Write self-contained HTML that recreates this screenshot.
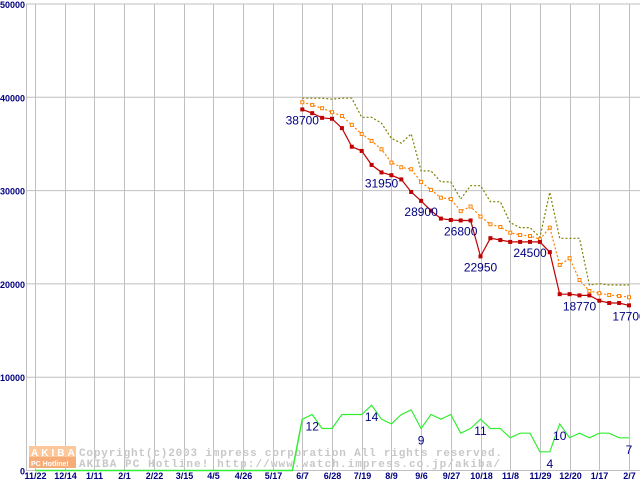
<!DOCTYPE html>
<html><head><meta charset="utf-8"><style>
html,body{margin:0;padding:0;background:#fff;}
svg{display:block;}
</style></head><body>
<svg id="chart" width="640" height="480" xmlns="http://www.w3.org/2000/svg"></svg>
<script>
const xLabels=["11/22","12/14","1/11","2/1","2/22","3/15","4/5","4/26","5/17","6/7","6/28","7/19","8/9","9/6","9/27","10/18","11/8","11/29","12/20","1/17","2/7"];
const yTicks=[0,10000,20000,30000,40000,50000];
const startIndex=27;
const minPrice=[38700,38300,37800,37700,36700,34700,34250,32750,31950,31650,31200,29850,28900,27850,27000,26850,26800,26800,22950,24900,24700,24500,24500,24500,24500,23400,18900,18900,18770,18770,18200,17950,17950,17700];
const avgPrice=[39470,39180,38830,38400,38000,37040,36070,35320,34430,33000,32500,32290,30930,30070,29240,29100,27800,28290,27210,26390,26100,25490,25240,25130,24780,26030,22030,22750,20420,19240,19000,18810,18700,18570];
const maxPrice=[39900,39900,39900,39800,39900,39900,37860,37860,37220,35610,35080,36080,32110,32110,30930,30930,29100,30520,30530,28810,28810,26560,26030,26030,25000,29820,24890,24890,24890,19880,20020,19880,19880,19880];
const shopCount=[11,12,9,9,12,12,12,14,11,10,12,13,9,12,11,12,8,9,11,9,9,7,8,8,4,4,10,7,8,7,8,8,7,7];
const priceLabelIdx=[27,35,39,43,45,50,55,60];
const priceLabelText=["38700","31950","28900","26800","22950","24500","18770","17700"];
const countLabelIdx=[28,34,39,45,52,53,60];
const countLabelText=["12","14","9","11","4","10","7"];

const svg=document.getElementById('chart');
const NS='http://www.w3.org/2000/svg';
function X(i){return 35+i*(629-35)/60;}
function Y(v){return 470.5-v*(466.5/50000);}
function mk(tag,attrs,parent){const e=document.createElementNS(NS,tag);for(const k in attrs)e.setAttribute(k,attrs[k]);(parent||svg).appendChild(e);return e;}

// gridlines
yTicks.forEach(v=>{
  const l=mk('line',{x1:26,x2:640,y1:Y(v),y2:Y(v),stroke:'#c0c0c0','stroke-width':1});
  
  
  const t=mk('text',{x:25,y:Y(v)+4,'text-anchor':'end','font-family':'Liberation Sans, sans-serif','font-size':9,'font-weight':'bold',fill:'#000080'});
  t.textContent=String(v);
  
  
});
const ax=mk('line',{x1:26.5,x2:26.5,y1:4,y2:471,stroke:'#c0c0c0'});


xLabels.forEach((s,k)=>{
  const x=Math.round(X(k*3))+0.5;
  const l=mk('line',{x1:x,x2:x,y1:4,y2:471,stroke:'#c0c0c0'});
  
  
  const t=mk('text',{x:x,y:479,'text-anchor':'middle','font-family':'Liberation Sans, sans-serif','font-size':9,'font-weight':'bold',fill:'#000080'});
  t.textContent=s;
  
  
});

// watermark
const wm=mk('g',{});


mk('rect',{x:29,y:446,width:47,height:11,fill:'#fcc79a'},wm);
mk('rect',{x:29,y:457,width:47,height:11,fill:'#f7ad78'},wm);
const lg=mk('text',{x:31,y:456,'font-family':'Liberation Sans, sans-serif','font-size':10,'font-weight':'bold',fill:'#fff','letter-spacing':'3'},wm);lg.textContent='AKIBA';
const lg2=mk('text',{x:31,y:466,'font-family':'Liberation Sans, sans-serif','font-size':7,'font-weight':'bold',fill:'#fff'},wm);lg2.textContent='PC Hotline!';
const w1=mk('text',{x:79,y:456,'font-family':'Liberation Mono, monospace','font-size':11,'font-weight':'bold',fill:'#c8c8c8',textLength:423,lengthAdjust:'spacing'},wm);w1.textContent='Copyright(c)2003 impress corporation All rights reserved.';
const w2=mk('text',{x:79,y:467,'font-family':'Liberation Mono, monospace','font-size':11,'font-weight':'bold',fill:'#c8c8c8',textLength:421,lengthAdjust:'spacing'},wm);w2.textContent='AKIBA PC Hotline!  http://www.watch.impress.co.jp/akiba/';

function pts(arr,scale){return arr.map((v,i)=>X(startIndex+i).toFixed(1)+','+Y(v*scale).toFixed(1)).join(' ');}

// green count line (with zero segment before)
const gz=mk('polyline',{points:X(0)+','+Y(0)+' '+X(startIndex-1)+','+Y(0)+' '+pts(shopCount,500).split(' ')[0],fill:'none',stroke:'#33ee33','stroke-width':1.5});


const gl=mk('polyline',{points:pts(shopCount,500),fill:'none',stroke:'#33ee33','stroke-width':1.2});



const ol=mk('polyline',{points:pts(maxPrice,1),fill:'none',stroke:'#808000','stroke-width':1.2,'stroke-dasharray':'2,2'});


const orl=mk('polyline',{points:pts(avgPrice,1),fill:'none',stroke:'#ff8000','stroke-width':1.2,'stroke-dasharray':'2,2'});


avgPrice.forEach((v,i)=>{
  const r=mk('rect',{x:X(startIndex+i)-1.5,y:Y(v)-1.5,width:3,height:3,fill:'#fff',stroke:'#ff8000','stroke-width':1});
  
  
});
const rl=mk('polyline',{points:pts(minPrice,1),fill:'none',stroke:'#c00000','stroke-width':1.2});


minPrice.forEach((v,i)=>{
  const r=mk('rect',{x:X(startIndex+i)-2,y:Y(v)-2,width:4,height:4,fill:'#c00000'});
  
  
});

priceLabelIdx.forEach((idx,k)=>{
  const v=minPrice[idx-startIndex];
  const t=mk('text',{x:X(idx),y:Y(v)+15,'text-anchor':'middle','font-family':'Liberation Sans, sans-serif','font-size':12,fill:'#000080'});
  t.textContent=priceLabelText[k];
  
  
});
countLabelIdx.forEach((idx,k)=>{
  const v=shopCount[idx-startIndex];
  const t=mk('text',{x:X(idx),y:Y(v*500)+16,'text-anchor':'middle','font-family':'Liberation Sans, sans-serif','font-size':12,fill:'#000080'});
  t.textContent=countLabelText[k];
  
  
});
</script>
</body></html>
